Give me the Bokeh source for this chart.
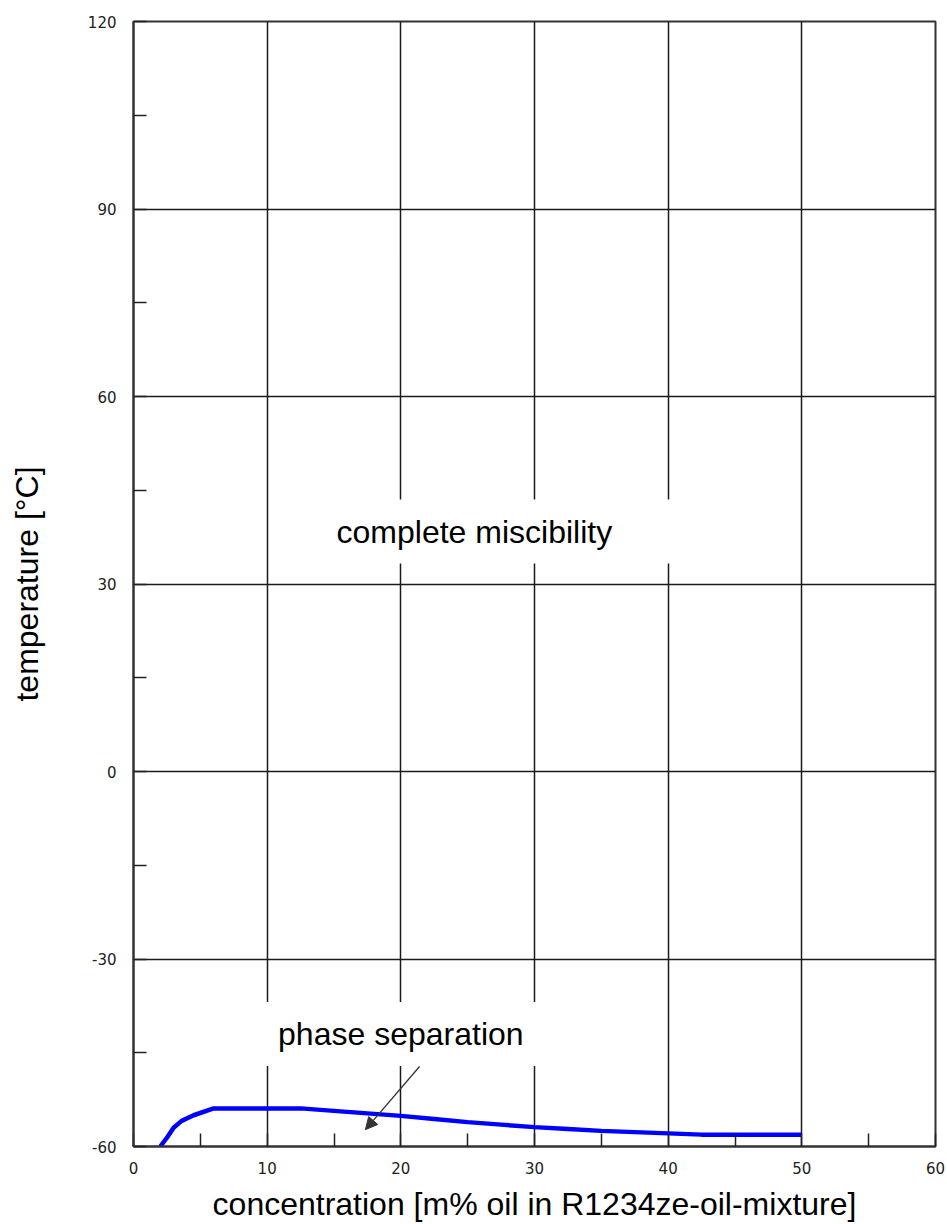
from bokeh.plotting import figure
from bokeh.models import SingleIntervalTicker, Label, Arrow, NormalHead, ColumnDataSource
from bokeh.embed import file_html
from bokeh.resources import INLINE

# Data
conc = [2.0, 2.5, 3.0, 3.6, 4.5, 6.0, 8.0, 10.0, 12.5, 15.0, 17.5, 20.0,
        22.5, 25.0, 27.5, 30.0, 32.5, 35.0, 37.5, 40.0, 42.5, 45.0, 47.5, 50.0]
temp = [-60.0, -58.6, -57.0, -55.9, -55.0, -53.9, -53.9, -53.9, -53.9, -54.3, -54.7, -55.1,
        -55.6, -56.1, -56.5, -56.9, -57.2, -57.5, -57.7, -57.9, -58.1, -58.1, -58.1, -58.1]

y_tick_values = [-60, -30, 0, 30, 60, 90, 120]
y_tick_labels = ["-60", "-30", "0", "30", "60", "90", "120"]
x_title = "concentration [m% oil in R1234ze-oil-mixture]"
y_title = "temperature [°C]"
region_labels = ["complete miscibility", "phase separation"]
region_x = [25.5, 20.0]
region_y = [38.4, -42.0]
arrow_from = (21.4, -47.2)
arrow_to = (17.35, -57.3)

p = figure(width=947, height=1224, x_range=(0, 60), y_range=(-60, 120),
           output_backend="svg", toolbar_location=None,
           min_border_left=133, min_border_right=12, min_border_top=21, min_border_bottom=78)

p.background_fill_color = "white"
p.border_fill_color = "white"
p.outline_line_color = "#333333"
p.outline_line_width = 2
p.outline_line_alpha = 1.0

p.xaxis.ticker = SingleIntervalTicker(interval=10, num_minor_ticks=2)
p.yaxis.ticker = SingleIntervalTicker(interval=30, num_minor_ticks=2)
p.yaxis.major_label_overrides = {v: s for v, s in zip(y_tick_values, y_tick_labels)}

for ax in (p.xaxis[0], p.yaxis[0]):
    ax.axis_line_color = "#333333"
    ax.axis_line_width = 2
    ax.major_tick_in = 0
    ax.major_tick_out = 0
    ax.minor_tick_in = 13
    ax.minor_tick_out = 0
    ax.minor_tick_line_color = "#222222"
    ax.minor_tick_line_width = 1.5
    ax.major_label_text_font = "DejaVu Sans"
    ax.major_label_text_font_size = "15px"
    ax.major_label_text_color = "#222222"
    ax.axis_label_text_font = "Liberation Sans"
    ax.axis_label_text_font_size = "32px"
    ax.axis_label_text_font_style = "normal"
    ax.axis_label_text_color = "black"

p.xaxis.major_label_standoff = 15
p.yaxis.major_label_standoff = 17
p.xaxis.axis_label = x_title
p.yaxis.axis_label = y_title
p.xaxis.axis_label_standoff = 9
p.yaxis.axis_label_standoff = 40

p.grid.grid_line_color = "#1a1a1a"
p.grid.grid_line_width = 1.5
p.grid.grid_line_alpha = 1.0

src = ColumnDataSource(data=dict(conc=conc, temp=temp))
p.line(x="conc", y="temp", source=src, line_color="#0000ff", line_width=4.5)

for txt, lx, ly in zip(region_labels, region_x, region_y):
    p.add_layout(Label(x=lx, y=ly, text=txt, text_align="center", text_baseline="middle",
                       text_font="Liberation Sans", text_font_size="32px", text_color="black",
                       background_fill_color="white", padding=(64, 14)))

p.add_layout(Arrow(end=NormalHead(size=12, fill_color="#333333", line_color="#333333"),
                   x_start=arrow_from[0], y_start=arrow_from[1],
                   x_end=arrow_to[0], y_end=arrow_to[1],
                   line_color="#333333", line_width=1.3))

open("out.html", "w").write(file_html(p, INLINE))
